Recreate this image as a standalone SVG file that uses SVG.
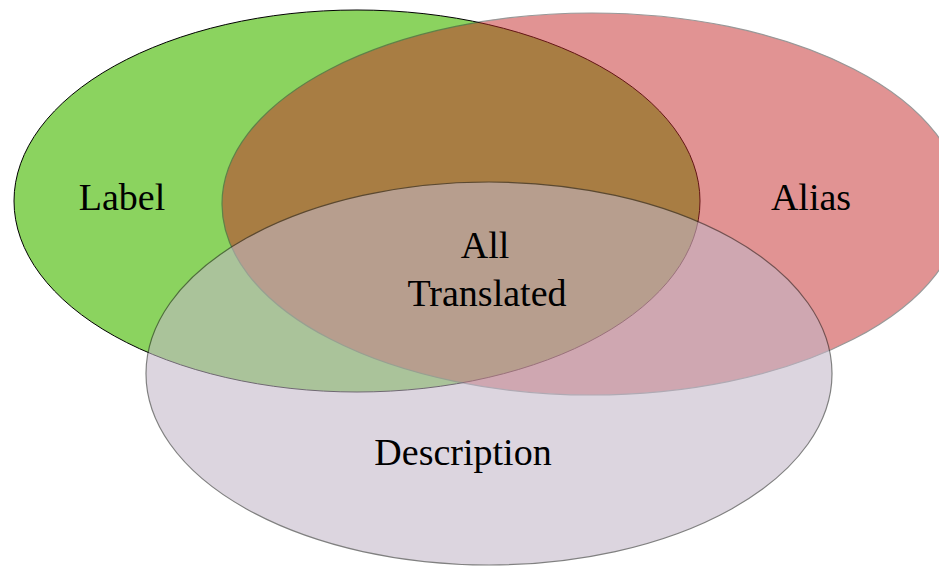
<svg xmlns="http://www.w3.org/2000/svg" width="939" height="566" viewBox="0 0 939 566">
<style>
text{font-family:"Liberation Serif","Times New Roman",serif;font-size:38px;fill:#000;text-anchor:middle}
.label{fill:#8BD35F;stroke:#000;stroke-width:1}
.alias{fill:#C52929;stroke:#333;stroke-width:1.2;opacity:0.5}
.desc{fill:#C3B7C8;stroke:#222;stroke-width:1.2;opacity:0.57}
</style>
<rect width="939" height="566" fill="#fff"/>
<g id="label">
<ellipse class="label" cx="357" cy="201" rx="343" ry="191"/>
<text x="122" y="210">Label</text>
</g>
<g id="alias">
<ellipse class="alias" cx="592" cy="204" rx="370" ry="191"/>
<text x="811" y="210">Alias</text>
</g>
<g id="description">
<ellipse class="desc" cx="489" cy="373.5" rx="343" ry="191.5"/>
<text x="463" y="465">Description</text>
</g>
<g id="all-translated">
<text x="485" y="258">All</text>
<text x="487" y="306">Translated</text>
</g>
<g id="connectors"/>
</svg>
